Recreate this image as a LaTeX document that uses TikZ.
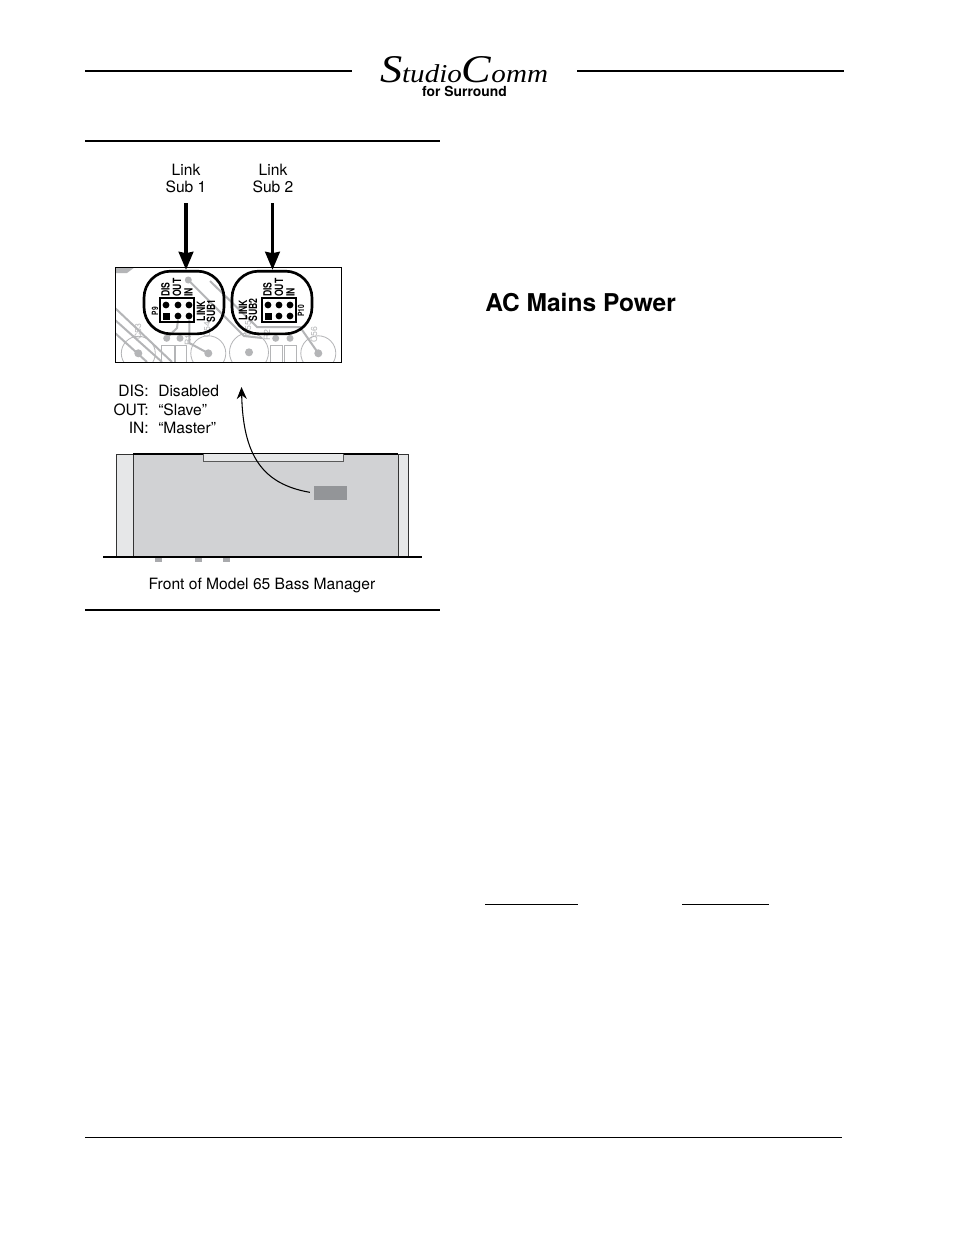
\documentclass[tikz,border=0pt]{standalone}
\usepackage{fontspec}
\usepackage{graphicx}
\setmainfont{TeX Gyre Heros}
\newfontfamily\logofont{Liberation Serif}
\usetikzlibrary{arrows.meta}
\definecolor{chassisgray}{HTML}{D1D2D4}
\definecolor{eargray}{HTML}{E6E7E8}
\definecolor{jumpergray}{HTML}{939598}
\definecolor{tracegray}{HTML}{B4B5B7}
\newcommand{\pcbtext}[1]{\scalebox{0.76}[1]{#1}}
\newcommand{\logoword}{\logofont\itshape\resizebox{126pt}{19.5pt}{\fontsize{32pt}{32pt}\selectfont S\fontsize{21pt}{21pt}\selectfont tudio\fontsize{32pt}{32pt}\selectfont C\fontsize{21pt}{21pt}\selectfont omm}}
\tikzset{
	label text/.style={inner sep=0pt,align=center,font=\fontsize{11.7pt}{12.7pt}\selectfont},
	rule line/.style={line width=1.5pt},
	thin rule/.style={line width=0.75pt},
	link arrow/.style={line width=2.3pt,-{Stealth[length=13.5pt,width=11pt,inset=1pt]}},
	curve arrow/.style={line width=0.8pt,-{Stealth[length=9pt,width=7.5pt]}},
	capsule/.style={draw,line width=2pt,rounded corners=20pt,minimum width=60pt,minimum height=47pt,inner sep=0pt},
	pcb text/.style={rotate=90,inner sep=0pt,font=\bfseries\fontsize{8.5pt}{8.5pt}\selectfont},
	small pcb text/.style={rotate=90,inner sep=0pt,font=\bfseries\fontsize{6.5pt}{6.5pt}\selectfont},
	silk text/.style={rotate=90,inner sep=0pt,text=tracegray,font=\fontsize{6.5pt}{6.5pt}\selectfont},
	trace/.style={tracegray,line width=1.5pt},
	part/.style={tracegray,line width=0.6pt}
}

\begin{document}
\begin{tikzpicture}[x=0.75pt,y=-0.75pt]
	\path[use as bounding box,fill=white] (0,0) rectangle (954,1235);
	
	\draw[rule line] (85,71)--(352,71);
	\draw[rule line] (577,71)--(844,71);
	\node[inner sep=0pt] (logotop) at (464,70) {\logoword};
	\node[inner sep=0pt,font=\bfseries\fontsize{10.4pt}{10.4pt}\selectfont] (logosub) at (464.5,91.5) {for Surround};
	
	\draw[rule line] (85,141)--(440,141);
	\draw[rule line] (85,610)--(440,610);
	\draw[thin rule] (85,1137)--(842,1137);
	\draw[thin rule] (485,904)--(578,904);
	\draw[thin rule] (682,904)--(769,904);
	
	\node[inner sep=0pt,anchor=west,font=\bfseries\fontsize{18.4pt}{19pt}\selectfont] (acmains) at (485,303) {AC Mains Power};
	
	\node[label text] (linkone) at (186,178) {Link\\Sub 1};
	\node[label text] (linktwo) at (273,178) {Link\\Sub 2};
	
	\begin{scope}
		\clip (115,267) rectangle (341,362);
		\fill[tracegray] (115,267)--(135,267)--(127,273)--(115,273)--cycle;
		\draw[part] (138.3,353.3) circle (17);
		\draw[part] (208.3,353.3) circle (17.5);
		\draw[part] (249,352.3) circle (19.5);
		\draw[part] (318.3,353.3) circle (17.5);
		\draw[part] (161.7,345) rectangle (174,368);
		\draw[part] (175,345) rectangle (186.7,368);
		\draw[part] (270,345) rectangle (282.7,368);
		\draw[part] (284,345) rectangle (296.7,368);
		\draw[trace] (115,308)--(172,362);
		\draw[trace] (115,320)--(162,362);
		\draw[trace] (115,333)--(147,362);
		\draw[trace] (188.3,280)--(244,336)--(262,338);
		\draw[trace] (210,281)--(257,327)--(300,327)--(318.3,353.3);
		\draw[trace] (178,320)--(177,328)--(166.7,338);
		\draw[trace] (189.3,320)--(189.3,343)--(208.3,353.3);
		\foreach \dotx/\doty in {188.3/280,166.7/338.3,180/338.3,275.7/338.3,290/338.3}{
			\fill[tracegray] (\dotx,\doty) circle (3.5);
		}
		\foreach \dotx/\doty in {138.3/353.3,208.3/353.3,249/352.3,318.3/353.3}{
			\fill[tracegray] (\dotx,\doty) circle (4);
		}
		\node[silk text] (cfiftythree) at (138,332) {C53};
		\node[silk text] (cfiftyfour) at (207,330) {C54};
		\node[silk text] (rone) at (188,340) {R1};
		\node[silk text] (cfive) at (248,329) {C55};
		\node[silk text] (rtwo) at (267,335) {R2};
		\node[silk text] (cfiftysix) at (314,335) {C56};
	\end{scope}
	\draw[line width=0.7pt] (115,267) rectangle (341,362);
	
	\node[capsule] (capone) at (184,302.5) {};
	\node[capsule] (captwo) at (272,302.5) {};
	
	\coordinate (linkonestart) at (186,203);
	\coordinate (linktwostart) at (272.5,203);
	\draw[link arrow] (linkonestart)--(linkonestart|-capone.north);
	\draw[link arrow] (linktwostart)--(linktwostart|-captwo.north);
	
	\draw[line width=0.8pt] (160,298) rectangle (194,322);
	\draw[line width=0.8pt] (262,298) rectangle (296,322);
	\foreach \pinx in {178,189,279,290}{
		\fill (\pinx,305) circle (3.4);
		\fill (\pinx,316) circle (3.4);
	}
	\fill (166,305) circle (3.4);
	\fill (268,305) circle (3.4);
	\fill (162.5,312.5) rectangle (169.5,319.5);
	\fill (264.5,312.5) rectangle (271.5,319.5);
	
	\node[pcb text,anchor=west] (disone) at (165.5,297) {\pcbtext{DIS}};
	\node[pcb text,anchor=west] (outone) at (177,297) {\pcbtext{OUT}};
	\node[pcb text,anchor=west] (inone) at (188.5,297) {\pcbtext{IN}};
	\node[pcb text,anchor=west] (distwo) at (267.5,297) {\pcbtext{DIS}};
	\node[pcb text,anchor=west] (outtwo) at (279,297) {\pcbtext{OUT}};
	\node[pcb text,anchor=west] (intwo) at (290.5,297) {\pcbtext{IN}};
	\node[pcb text] (linkboardone) at (201,311) {\pcbtext{LINK}};
	\node[pcb text] (subboardone) at (211,311) {\pcbtext{SUB1}};
	\node[pcb text] (linkboardtwo) at (243,310) {\pcbtext{LINK}};
	\node[pcb text] (subboardtwo) at (253,310) {\pcbtext{SUB2}};
	\node[small pcb text] (pnine) at (155,311) {\pcbtext{P9}};
	\node[small pcb text] (pten) at (301,311) {\pcbtext{P10}};
	
	\node[label text,anchor=base east] (disname) at (149,396) {DIS:};
	\node[label text,anchor=base west] (disvalue) at (158,396) {Disabled};
	\node[label text,anchor=base east] (outname) at (149,415) {OUT:};
	\node[label text,anchor=base west] (outvalue) at (158,415) {“Slave”};
	\node[label text,anchor=base east] (inname) at (149,433) {IN:};
	\node[label text,anchor=base west] (invalue) at (158,433) {“Master”};
	
	\fill[eargray] (116,454) rectangle (408,557);
	\draw[black!80,line width=0.5pt] (116,557)--(116,454)--(408,454)--(408,557);
	\fill[chassisgray] (133,454) rectangle (398,557);
	\draw[black!80,line width=0.6pt] (133,454)--(133,557);
	\draw[black!80,line width=0.6pt] (398,454)--(398,557);
	\draw[line width=1pt] (133,454)--(398,454);
	\fill[eargray] (203,453.5) rectangle (343,461);
	\draw[black!65,line width=0.6pt] (203,454)--(203,461)--(343,461)--(343,454);
	
	\foreach \footx in {155,195,223}{
		\fill[jumpergray!80] (\footx,557) rectangle (\footx+7,562);
	}
	\draw[line width=2.2pt] (103,557)--(422,557);
	
	\node[fill=jumpergray,minimum width=24.75pt,minimum height=10.5pt,inner sep=0pt] (jumperarea) at (330.5,493) {};
	\coordinate (pcbtarget) at (241.5,387);
	\draw[curve arrow,shorten <=3pt] (jumperarea.west) .. controls (262,484) and (243,455) .. (pcbtarget);
	
	\node[label text] (frontlabel) at (262,585) {Front of Model 65 Bass Manager};
\end{tikzpicture}
\end{document}
